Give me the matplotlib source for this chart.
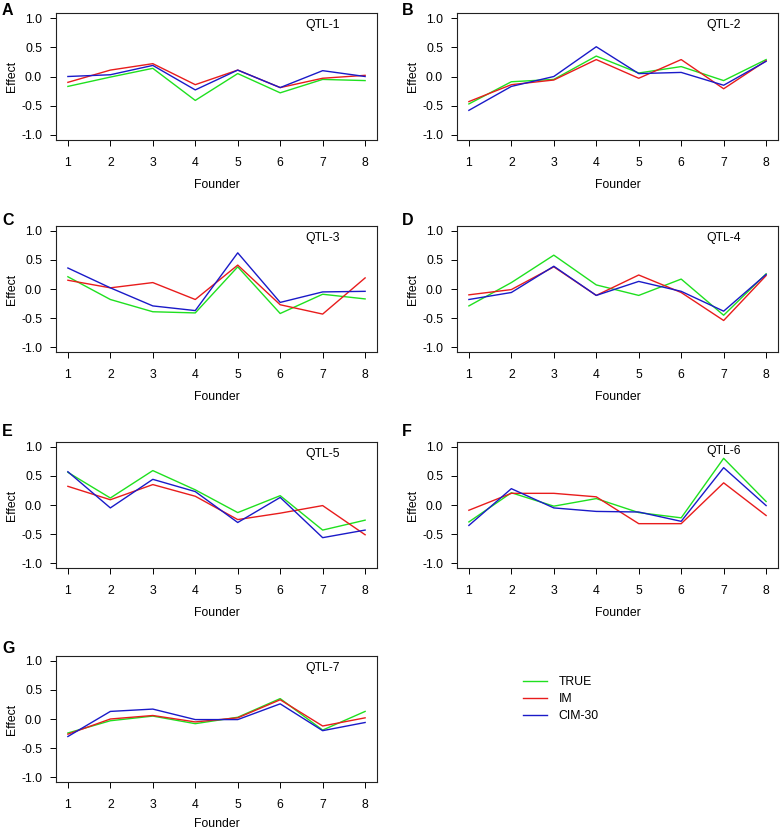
import matplotlib
matplotlib.use("Agg")
import matplotlib.pyplot as plt

plt.rcParams['font.family'] = ['Liberation Sans', 'DejaVu Sans']

founders = [1, 2, 3, 4, 5, 6, 7, 8]
yticks = [-1.0, -0.5, 0.0, 0.5, 1.0]
ytick_labels = ["-1.0", "-0.5", "0.0", "0.5", "1.0"]
series_names = ["TRUE", "IM", "CIM-30"]
series_colors = ["#1fe01f", "#e81c1c", "#1a1ac8"]
panel_letters = ["A", "B", "C", "D", "E", "F", "G"]
qtl_names = ["QTL-1", "QTL-2", "QTL-3", "QTL-4", "QTL-5", "QTL-6", "QTL-7"]

true_vals = [
    [-0.17, -0.01, 0.14, -0.41, 0.05, -0.28, -0.05, -0.07],
    [-0.47, -0.09, -0.05, 0.35, 0.06, 0.17, -0.07, 0.29],
    [0.21, -0.18, -0.39, -0.41, 0.38, -0.42, -0.09, -0.17],
    [-0.29, 0.11, 0.58, 0.07, -0.11, 0.17, -0.45, 0.26],
    [0.56, 0.12, 0.59, 0.26, -0.13, 0.16, -0.43, -0.26],
    [-0.29, 0.21, -0.02, 0.11, -0.13, -0.22, 0.80, 0.06],
    [-0.24, -0.03, 0.05, -0.08, 0.03, 0.35, -0.19, 0.13],
]
im_vals = [
    [-0.10, 0.11, 0.22, -0.14, 0.11, -0.19, -0.03, 0.02],
    [-0.43, -0.14, -0.06, 0.29, -0.03, 0.29, -0.21, 0.27],
    [0.15, 0.02, 0.11, -0.18, 0.41, -0.27, -0.43, 0.19],
    [-0.10, -0.01, 0.38, -0.11, 0.24, -0.06, -0.54, 0.23],
    [0.32, 0.09, 0.35, 0.15, -0.25, -0.14, -0.01, -0.51],
    [-0.09, 0.20, 0.20, 0.14, -0.32, -0.32, 0.38, -0.18],
    [-0.26, 0.00, 0.06, -0.05, 0.02, 0.33, -0.12, 0.02],
]
cim_vals = [
    [0.00, 0.03, 0.19, -0.23, 0.11, -0.19, 0.10, 0.00],
    [-0.58, -0.17, 0.00, 0.51, 0.05, 0.07, -0.15, 0.26],
    [0.36, 0.02, -0.29, -0.37, 0.62, -0.23, -0.05, -0.04],
    [-0.18, -0.06, 0.39, -0.11, 0.13, -0.04, -0.38, 0.25],
    [0.57, -0.05, 0.44, 0.23, -0.30, 0.13, -0.56, -0.43],
    [-0.35, 0.28, -0.05, -0.11, -0.12, -0.28, 0.64, -0.01],
    [-0.30, 0.13, 0.17, -0.01, -0.01, 0.26, -0.20, -0.06],
]
qtl_label_y = [0.88, 0.88, 0.88, 0.88, 0.88, 0.92, 0.88]

W, H = 780, 834
fig = plt.figure(figsize=(W / 100, H / 100), dpi=100)

col_left = [56, 457]
col_width = 321
row_top = [13.5, 226, 442, 656]
ax_h = 126
letter_pos = [(2, 3), (402, 3), (2, 213), (402, 213), (2, 424), (402, 424), (2, 641)]

fs = 8.8
handles = None
for i in range(7):
    r, c = divmod(i, 2)
    left = col_left[c] / W
    bottom = 1 - (row_top[r] + ax_h) / H
    ax = fig.add_axes([left, bottom, col_width / W, ax_h / H])
    hs = []
    for vals, name, col in zip([true_vals[i], im_vals[i], cim_vals[i]], series_names, series_colors):
        h, = ax.plot(founders, vals, color=col, lw=1.0, label=name)
        hs.append(h)
    if handles is None:
        handles = hs
    ax.set_xlim(0.72, 8.28)
    ax.set_ylim(-1.08, 1.08)
    ax.set_xticks(founders)
    ax.set_xticklabels([str(f) for f in founders], fontsize=fs)
    ax.set_yticks(yticks)
    ax.set_yticklabels(ytick_labels, fontsize=fs)
    ax.tick_params(axis='x', direction='out', length=4, width=0.7, pad=8.5)
    ax.tick_params(axis='y', direction='out', length=4, width=0.7, pad=6)
    for s in ax.spines.values():
        s.set_linewidth(0.8)
        s.set_color('#222222')
    ax.set_xlabel("Founder", fontsize=fs, labelpad=(5 if i == 6 else 7))
    ax.set_ylabel("Effect", fontsize=fs, labelpad=2)
    ax.text(7, qtl_label_y[i], qtl_names[i], fontsize=fs, ha='center', va='center')
    lx, ly = letter_pos[i]
    fig.text(lx / W, 1 - ly / H, panel_letters[i], fontsize=11.5, fontweight='bold',
             ha='left', va='top')

fig.legend(handles, series_names, loc='upper left',
           bbox_to_anchor=(523 / W, 1 - 676 / H), frameon=False, fontsize=fs,
           handlelength=2.0, handletextpad=0.9, borderaxespad=0, borderpad=0,
           labelspacing=0.42)

fig.savefig("out.png", dpi=100)
